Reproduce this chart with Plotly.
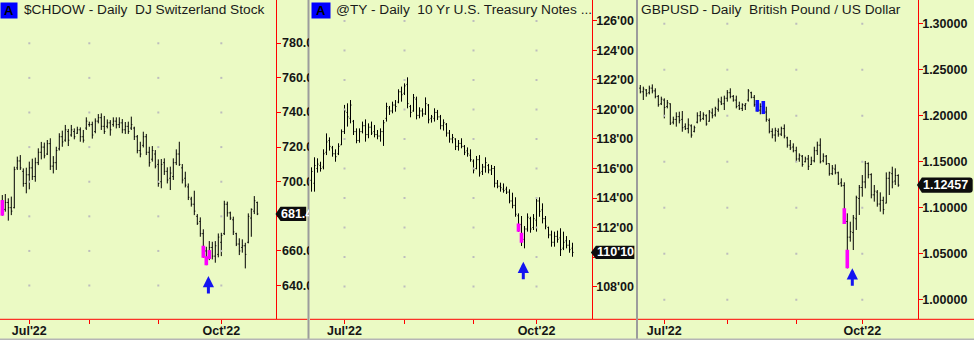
import pandas as pd
import plotly.graph_objects as go

W, H = 974, 340
BG = "#ebfac4"
RED = "#ff0000"
INK = "#151515"
FONT = "Liberation Sans, Arial, sans-serif"


def sessions(start, end, closed=()):
    days = [d.strftime("%Y-%m-%d") for d in pd.bdate_range(start, end)]
    return [d for d in days if d not in closed]


# ---------------- trading calendars ----------------
chd_dates = sessions("2022-06-20", "2022-10-19", ("2022-07-04", "2022-09-05"))
ty_dates = sessions("2022-06-16", "2022-10-19", ("2022-07-04", "2022-09-05"))
gbp_dates = sessions("2022-06-21", "2022-10-19")

tick_months = ["2022-07", "2022-08", "2022-09", "2022-10"]
month_tick_text = ["Jul'22", "", "", "Oct'22"]

# ---------------- $CHDOW daily bars ----------------
chd_open = [689, 684, 688, 685, 685, 708, 712, 706, 699, 704,
            708, 703, 711, 717, 720, 716, 722, 709, 711, 719,
            726, 724, 729, 727, 729, 728, 730, 726, 731, 733,
            733, 729, 735, 737, 732, 732, 734, 733, 735, 733,
            734, 730, 732, 731, 731, 726, 718, 721, 726, 717,
            713, 716, 710, 700, 711, 706, 702, 703, 711, 716,
            708, 702, 697, 690, 687, 680, 677, 670, 660, 656,
            662, 657, 658, 665, 670, 687, 682, 678, 670, 664,
            662, 663, 665, 679, 683, 688]
chd_high = [692.3, 692.9, 690.4, 691.4, 708.7, 714.5, 715.4, 707.7, 708.1, 711.6,
            713.3, 713.9, 719.3, 723.0, 722.6, 724.1, 725.1, 714.8, 720.2, 728.0,
            729.5, 732.8, 730.5, 732.8, 730.8, 731.8, 731.4, 729.9, 737.2, 734.7,
            734.7, 736.6, 739.1, 739.5, 738.0, 736.0, 735.6, 737.2, 737.2, 737.2,
            736.2, 734.5, 734.7, 737.6, 731.8, 727.0, 723.1, 728.9, 727.6, 720.2,
            720.6, 718.3, 712.9, 713.1, 713.5, 708.3, 708.7, 713.5, 718.7, 723.1,
            710.2, 705.8, 699.0, 691.3, 694.8, 681.3, 679.4, 672.5, 662.4, 665.7,
            665.3, 665.7, 670.1, 670.5, 689.0, 688.5, 682.7, 679.8, 670.5, 667.3,
            666.7, 664.7, 681.7, 684.6, 691.7, 688.5]
chd_low = [680.4, 682.7, 677.5, 680.7, 684.6, 706.8, 706.8, 697.1, 693.3, 695.6,
           701.0, 700.0, 709.6, 712.9, 713.5, 715.4, 706.8, 704.8, 706.8, 718.0,
           720.2, 723.1, 720.6, 726.0, 724.5, 727.6, 723.1, 722.6, 729.9, 731.8,
           724.9, 728.0, 733.7, 729.9, 727.6, 730.8, 726.6, 731.8, 730.8, 731.0,
           728.0, 727.6, 727.6, 729.9, 724.1, 716.4, 714.1, 719.8, 715.4, 708.7,
           711.6, 707.7, 697.1, 696.2, 703.9, 699.0, 695.2, 701.0, 709.6, 709.1,
           699.0, 696.7, 689.4, 685.6, 680.7, 675.0, 668.2, 656.1, 651.8, 654.7,
           655.1, 653.2, 656.3, 657.0, 669.2, 679.8, 677.9, 669.2, 662.8, 657.6,
           659.0, 649.9, 664.4, 668.2, 681.3, 680.7]
chd_close = [683, 688, 685, 683, 707, 712, 708, 699, 704, 708,
             703, 711, 717, 720, 715, 722, 709, 711, 718, 726,
             723, 730, 724, 730, 726, 730, 726, 724, 735, 733,
             727, 735, 737, 732, 729, 734, 730, 735, 733, 734,
             730, 732, 729, 733, 726, 718, 716, 726, 717, 711,
             718, 709, 699, 710, 706, 701, 705, 711, 716, 710,
             701, 698, 691, 687, 683, 676, 670, 660, 654, 662,
             657, 663, 668, 669, 687, 682, 679, 671, 664, 660,
             663, 658, 680, 684, 689, 681.4]
chd_yticks = [640, 660, 680, 700, 720, 740, 760, 780]
chd_paint_idx = [0, 67, 68, 69]
chd_paint_top = [689.4, 663.0, 657.0, 660.5]
chd_paint_bot = [680.4, 656.1, 651.8, 655.3]
chd_signal = (68.7, 645.5)

# ---------------- @TY daily bars ----------------
ty_open = [115.2, 115.0, 116.0, 116.2, 116.1, 117.1, 117.9, 117.4, 117.0, 117.0,
           117.6, 118.5, 119.8, 119.4, 119.2, 118.5, 117.9, 118.5, 118.9, 118.3,
           118.8, 118.5, 118.3, 118.2, 118.5, 119.4, 120.1, 119.9, 120.3, 120.5,
           121.2, 121.1, 121.7, 120.2, 119.9, 120.7, 119.6, 119.9, 119.7, 120.3,
           119.4, 119.4, 119.8, 119.5, 118.9, 119.0, 118.4, 118.0, 118.0, 117.5,
           117.7, 117.5, 117.2, 116.9, 116.5, 116.0, 116.6, 115.8, 116.1, 116.2,
           115.9, 116.0, 115.0, 114.8, 114.6, 114.6, 114.4, 113.8, 113.5, 112.8,
           112.2, 111.2, 111.9, 112.6, 112.0, 112.5, 113.8, 113.2, 112.6, 112.0,
           111.5, 111.0, 111.4, 111.3, 110.6, 111.1, 110.8, 110.6]
ty_high = [116.08, 116.76, 116.69, 116.46, 117.30, 118.38, 118.11, 117.53, 117.30, 117.71,
           118.65, 120.31, 120.42, 120.64, 119.29, 118.72, 118.72, 119.18, 119.33, 119.06,
           119.18, 118.95, 118.61, 118.72, 119.29, 120.46, 120.24, 120.53, 120.64, 121.37,
           121.55, 121.77, 122.18, 120.31, 121.05, 120.87, 120.15, 120.08, 120.82, 120.37,
           119.63, 120.08, 119.97, 119.63, 119.33, 119.08, 118.61, 118.34, 118.05, 117.93,
           118.05, 117.59, 117.43, 117.30, 116.62, 116.85, 116.91, 116.31, 116.76, 116.31,
           116.24, 116.17, 115.22, 115.04, 114.99, 114.77, 114.59, 114.36, 114.05, 112.96,
           112.78, 112.10, 112.96, 112.73, 112.91, 113.98, 114.05, 113.64, 112.78, 112.06,
           111.79, 111.72, 111.79, 111.95, 111.72, 111.42, 111.15, 110.97]
ty_low = [114.43, 114.43, 115.72, 115.79, 115.94, 116.91, 117.21, 116.80, 116.46, 116.91,
          117.59, 118.34, 118.84, 119.06, 118.27, 117.71, 117.75, 118.38, 117.82, 118.05,
          118.27, 118.11, 117.98, 117.82, 117.53, 119.18, 119.63, 119.74, 119.85, 120.42,
          120.53, 120.98, 120.08, 119.47, 119.85, 119.33, 119.40, 119.51, 119.63, 119.06,
          119.11, 119.18, 119.29, 118.65, 118.57, 118.16, 117.75, 117.71, 117.25, 117.21,
          117.37, 116.91, 116.80, 116.46, 115.67, 115.94, 115.45, 115.56, 115.72, 115.67,
          115.56, 114.72, 114.66, 114.43, 114.36, 114.27, 113.64, 113.30, 112.73, 111.72,
          110.75, 110.59, 111.72, 111.65, 111.83, 111.72, 112.73, 112.28, 111.88, 111.27,
          110.70, 110.70, 110.97, 110.07, 110.47, 110.59, 110.29, 110.02]
ty_close = [115.8, 116.2, 116.3, 116.0, 117.0, 117.8, 117.5, 117.0, 116.8, 117.5,
            118.5, 119.9, 119.5, 120.3, 118.5, 117.9, 118.5, 118.9, 118.3, 118.8,
            118.4, 118.3, 118.2, 118.5, 119.1, 120.2, 119.9, 120.3, 120.2, 121.2,
            121.0, 121.6, 120.4, 119.8, 120.8, 119.6, 119.9, 119.7, 120.4, 119.3,
            119.5, 119.8, 119.5, 118.9, 119.1, 118.4, 118.0, 118.1, 117.5, 117.7,
            117.5, 117.1, 117.0, 116.6, 115.9, 116.6, 115.7, 116.1, 116.4, 115.9,
            116.0, 115.0, 114.8, 114.7, 114.5, 114.4, 113.8, 113.5, 112.9, 112.0,
            111.2, 111.9, 112.7, 111.9, 112.6, 113.8, 113.1, 112.6, 112.1, 111.5,
            111.0, 111.4, 111.2, 110.5, 111.0, 110.8, 110.5, 110.3125]
ty_yticks = [108, 110, 112, 114, 116, 118, 120, 122, 124, 126]
ty_paint_idx = [69, 70]
ty_paint_top = [112.28, 111.65]
ty_paint_bot = [111.72, 110.97]
ty_signal = (70.6, 109.68)

# ---------------- GBPUSD daily bars ----------------
gbp_open = [1.2300, 1.2260, 1.2280, 1.2250, 1.2300, 1.2270, 1.2210, 1.2130, 1.2170, 1.2100,
            1.2130, 1.1930, 1.1960, 1.1990, 1.1960, 1.1880, 1.1860, 1.1890, 1.1830, 1.1930,
            1.2000, 1.1970, 1.2000, 1.1940, 1.2030, 1.2010, 1.2070, 1.2150, 1.2130, 1.2190,
            1.2250, 1.2210, 1.2170, 1.2110, 1.2080, 1.2110, 1.2170, 1.2250, 1.2200, 1.2150,
            1.2060, 1.2100, 1.2040, 1.1950, 1.1830, 1.1790, 1.1830, 1.1800, 1.1860, 1.1760,
            1.1680, 1.1660, 1.1620, 1.1530, 1.1560, 1.1500, 1.1530, 1.1470, 1.1510, 1.1620,
            1.1680, 1.1510, 1.1560, 1.1480, 1.1370, 1.1420, 1.1380, 1.1270, 1.1240, 1.0850,
            1.0680, 1.0730, 1.0880, 1.1100, 1.1220, 1.1280, 1.1480, 1.1360, 1.1140, 1.1170,
            1.1040, 1.1080, 1.1050, 1.1320, 1.1370, 1.1290, 1.1350]
gbp_high = [1.2334, 1.2316, 1.2290, 1.2327, 1.2341, 1.2298, 1.2225, 1.2207, 1.2189, 1.2171,
            1.2135, 1.1990, 1.2037, 1.2044, 1.2051, 1.1917, 1.1971, 1.1906, 1.1892, 1.2037,
            1.2051, 1.2037, 1.2015, 1.2062, 1.2080, 1.2098, 1.2189, 1.2207, 1.2218, 1.2279,
            1.2298, 1.2225, 1.2218, 1.2153, 1.2135, 1.2135, 1.2290, 1.2261, 1.2225, 1.2171,
            1.2135, 1.2160, 1.2098, 1.1971, 1.1863, 1.1870, 1.1863, 1.1881, 1.1906, 1.1772,
            1.1736, 1.1700, 1.1663, 1.1591, 1.1573, 1.1555, 1.1573, 1.1555, 1.1663, 1.1718,
            1.1754, 1.1591, 1.1573, 1.1482, 1.1464, 1.1471, 1.1392, 1.1319, 1.1276, 1.0939,
            1.0848, 1.0921, 1.1131, 1.1247, 1.1355, 1.1508, 1.1493, 1.1374, 1.1247, 1.1192,
            1.1167, 1.1120, 1.1384, 1.1392, 1.1446, 1.1428, 1.1363]
gbp_low = [1.2243, 1.2171, 1.2207, 1.2232, 1.2243, 1.2189, 1.2098, 1.2116, 1.1971, 1.2080,
           1.1899, 1.1906, 1.1881, 1.1917, 1.1826, 1.1845, 1.1808, 1.1761, 1.1819, 1.1917,
           1.1935, 1.1953, 1.1892, 1.1935, 1.1971, 1.1990, 1.2044, 1.2116, 1.2062, 1.2153,
           1.2189, 1.2153, 1.2080, 1.2062, 1.2051, 1.2062, 1.2153, 1.2189, 1.2098, 1.2044,
           1.2015, 1.2018, 1.1935, 1.1808, 1.1754, 1.1718, 1.1772, 1.1779, 1.1754, 1.1653,
           1.1627, 1.1602, 1.1500, 1.1500, 1.1446, 1.1493, 1.1410, 1.1464, 1.1493, 1.1573,
           1.1482, 1.1493, 1.1464, 1.1348, 1.1355, 1.1363, 1.1247, 1.1228, 1.0823, 1.0341,
           1.0631, 1.0540, 1.0758, 1.0921, 1.1120, 1.1211, 1.1319, 1.1102, 1.1066, 1.1011,
           1.0957, 1.0928, 1.1047, 1.1138, 1.1211, 1.1247, 1.1228]
gbp_close = [1.2260, 1.2290, 1.2240, 1.2300, 1.2270, 1.2210, 1.2120, 1.2180, 1.2090, 1.2140,
             1.1920, 1.1960, 1.1990, 1.1950, 1.1870, 1.1860, 1.1900, 1.1790, 1.1870, 1.2000,
             1.1960, 1.2010, 1.1910, 1.2040, 1.2000, 1.2080, 1.2160, 1.2130, 1.2190, 1.2250,
             1.2210, 1.2170, 1.2100, 1.2080, 1.2120, 1.2130, 1.2270, 1.2200, 1.2120, 1.2060,
             1.2100, 1.2040, 1.1960, 1.1830, 1.1790, 1.1840, 1.1800, 1.1860, 1.1780, 1.1680,
             1.1650, 1.1620, 1.1530, 1.1570, 1.1470, 1.1530, 1.1450, 1.1510, 1.1620, 1.1680,
             1.1500, 1.1560, 1.1480, 1.1370, 1.1430, 1.1380, 1.1260, 1.1240, 1.0850, 1.0680,
             1.0740, 1.0890, 1.1110, 1.1220, 1.1280, 1.1480, 1.1360, 1.1140, 1.1180, 1.1040,
             1.1080, 1.0980, 1.1320, 1.1380, 1.1280, 1.1350, 1.12457]
gbp_yticks = [1.00, 1.05, 1.10, 1.15, 1.20, 1.25, 1.30]
gbp_blue_idx = [39, 41]
gbp_blue_top = [1.2171, 1.2160]
gbp_blue_bot = [1.2044, 1.2018]
gbp_paint_idx = [68, 69]
gbp_paint_top = [1.0993, 1.0544]
gbp_paint_bot = [1.0823, 1.0341]
gbp_signal = (70.67, 1.0341)


def fx(p):
    return p / W


def fy(p):
    return 1 - p / H


def thirty_seconds(v):
    whole = int(v)
    return f"{whole}'{round((v - whole) * 32):02d}"


def month_starts(dates):
    firsts = {}
    for d in dates:
        firsts.setdefault(d[:7], d)
    return [firsts[m] for m in tick_months]


Y_BOT = fy(319.3)
bold = dict(family=FONT, size=12.5, color=INK, weight="bold")

panels = [
    dict(dates=chd_dates, o=chd_open, h=chd_high, l=chd_low, c=chd_close,
         left=0, axis=276.3, right=307.5, xr=(-0.77, 91.33), yr=(620.5, 805.0),
         yt=chd_yticks, fmt=lambda v: f"{v:.1f}", tag_gap=5,
         tag=f"{chd_close[-1]:.1f}", tag_w=30.7, tag_h=7.2, tag_r=0, tag_text_x=279.5, tag_clip=28,
         paints=[(chd_paint_idx, chd_paint_top, chd_paint_bot, "#ff00ff")],
         signal=chd_signal,
         title="$CHDOW - Daily\u00a0 DJ Switzerland Stock", title_x=21.5, badge=(0, 16)),
    dict(dates=ty_dates, o=ty_open, h=ty_high, l=ty_low, c=ty_close,
         left=310, axis=591.7, right=636, xr=(-0.5, 93.4), yr=(105.78, 127.42),
         yt=ty_yticks, fmt=thirty_seconds, tag_gap=0.5,
         tag=thirty_seconds(ty_close[-1]), tag_w=43.5, tag_h=6.7, tag_r=0, tag_text_x=595.5, tag_clip=39.5,
         paints=[(ty_paint_idx, ty_paint_top, ty_paint_bot, "#ff00ff")],
         signal=ty_signal,
         title="@TY - Daily\u00a0 10 Yr U.S. Treasury Notes ...", title_x=333.5, badge=(310.7, 18)),
    dict(dates=gbp_dates, o=gbp_open, h=gbp_high, l=gbp_low, c=gbp_close,
         left=638, axis=917.7, right=974, xr=(-0.77, 92.47), yr=(0.9787, 1.3258),
         yt=gbp_yticks, fmt=lambda v: f"{v:.5f}", tag_gap=0.01,
         tag=f"{gbp_close[-1]:.5f}", tag_w=55.8, tag_h=7.7, tag_r=3, tag_text_x=922, tag_clip=None,
         paints=[(gbp_blue_idx, gbp_blue_top, gbp_blue_bot, "#1010ff"),
                 (gbp_paint_idx, gbp_paint_top, gbp_paint_bot, "#ff00ff")],
         signal=gbp_signal,
         title="GBPUSD - Daily\u00a0 British Pound / US Dollar", title_x=639, badge=None),
]

fig = go.Figure()
annotations, shapes, layout_axes = [], [], {}

for i, p in enumerate(panels, start=1):
    sfx = str(i) if i > 1 else ""
    xa, ya = "x" + sfx, "y" + sfx
    starts = month_starts(p["dates"])
    last = p["c"][-1]
    # a price label that sits under the last-price tag is left blank
    ytext = ["" if abs(v - last) < p["tag_gap"] else p["fmt"](v) for v in p["yt"]]

    fig.add_trace(go.Ohlc(x=p["dates"], open=p["o"], high=p["h"], low=p["l"], close=p["c"],
                          xaxis=xa, yaxis=ya, tickwidth=0.34,
                          increasing=dict(line=dict(color="#000000", width=1)),
                          decreasing=dict(line=dict(color="#000000", width=1)),
                          hoverinfo="skip"))

    # grid dots at tick intersections
    gx = [d for d in starts for _ in p["yt"]]
    gy = [v for _ in starts for v in p["yt"]]
    fig.add_trace(go.Scatter(x=gx, y=gy, mode="markers", xaxis=xa, yaxis=ya,
                             marker=dict(symbol="square", size=2, color="#bdbdbd"),
                             hoverinfo="skip"))

    # highlighted bars
    for idx, top, bot, col in p["paints"]:
        px_, py_ = [], []
        for k, t, b in zip(idx, top, bot):
            px_ += [p["dates"][k], p["dates"][k], None]
            py_ += [b, t, None]
        fig.add_trace(go.Scatter(x=px_, y=py_, mode="lines", xaxis=xa, yaxis=ya,
                                 line=dict(color=col, width=3.6), hoverinfo="skip"))

    layout_axes["xaxis" + sfx] = dict(
        domain=[fx(p["left"]), fx(p["axis"])],
        range=list(p["xr"]), type="category", anchor=ya,
        categoryorder="array", categoryarray=p["dates"],
        tickvals=starts, ticktext=month_tick_text, tickangle=0,
        ticks="outside", ticklen=4, tickcolor=RED, tickwidth=1, ticklabelstandoff=-4,
        showline=False, showgrid=False, zeroline=False, automargin=False,
        tickfont=bold, rangeslider=dict(visible=False), fixedrange=True)
    layout_axes["yaxis" + sfx] = dict(
        domain=[Y_BOT, 1], range=list(p["yr"]), side="right", anchor=xa,
        showline=True, linecolor=RED, linewidth=1,
        ticks="outside", ticklen=4, tickcolor=RED, tickwidth=1, ticklabelstandoff=-3,
        tickvals=p["yt"], ticktext=ytext, showticklabels=(i > 1),
        showgrid=False, zeroline=False, automargin=False, tickfont=bold, fixedrange=True)

    # first pane's price labels are cut off by the divider
    if i == 1:
        for v, t in zip(p["yt"], ytext):
            if t:
                annotations.append(dict(x=fx(280.5), y=v, xref="paper", yref=ya, text=t,
                                        xanchor="left", yanchor="middle", align="left",
                                        width=27, borderpad=0, showarrow=False, font=bold))

    # bottom red rule across the whole pane
    shapes.append(dict(type="line", xref="paper", yref="paper",
                       x0=fx(p["left"]), x1=fx(p["right"]), y0=Y_BOT, y1=Y_BOT,
                       line=dict(color=RED, width=1), layer="above"))

    # last-price tag
    w, h, r = p["tag_w"], p["tag_h"], p["tag_r"]
    path = (f"M0,0 L5,{h} L{w - r},{h} Q{w},{h} {w},{h - r} L{w},{-h + r} "
            f"Q{w},{-h} {w - r},{-h} L5,{-h} Z")
    shapes.append(dict(type="path", xref="paper", yref=ya, xsizemode="pixel", ysizemode="pixel",
                       xanchor=fx(p["axis"] - 0.8), yanchor=last, path=path,
                       fillcolor="#0d0d0d", line=dict(width=0), layer="above"))
    tag = dict(x=fx(p["tag_text_x"]), y=last, xref="paper", yref=ya, text=p["tag"],
               xanchor="left", yanchor="middle", align="left", borderpad=0, showarrow=False,
               font=dict(family=FONT, size=12.5, color="#ffffff", weight="bold"))
    if p["tag_clip"]:
        tag["width"] = p["tag_clip"]
    annotations.append(tag)

    # buy-signal arrow
    sx, sy = p["signal"]
    annotations.append(dict(x=sx, y=sy, xref=xa, yref=ya, text="", showarrow=True,
                            ax=0, ay=19, axref="pixel", ayref="pixel",
                            arrowhead=2, arrowsize=0.75, arrowwidth=3, arrowcolor="#1414f0",
                            standoff=0))

    # pane title
    annotations.append(dict(x=fx(p["title_x"]), y=fy(9.5), xref="paper", yref="paper",
                            text=p["title"], xanchor="left", yanchor="middle", showarrow=False,
                            font=dict(family=FONT, size=13.7, color="#1a1a1a")))
    if p["badge"]:
        bx, bw = p["badge"]
        annotations.append(dict(x=fx(bx), y=fy(1.7), xref="paper", yref="paper", text="A",
                                xanchor="left", yanchor="top", width=bw, height=15, borderpad=0,
                                bgcolor="#0000ff", showarrow=False,
                                font=dict(family=FONT, size=13, color="#000000", weight="bold")))

# pane dividers and bottom frame
for xd in (308.5, 637):
    shapes.append(dict(type="line", xref="paper", yref="paper", x0=fx(xd), x1=fx(xd), y0=0, y1=1,
                       line=dict(color="#9c9c9c", width=2), layer="above"))
shapes.append(dict(type="line", xref="paper", yref="paper", x0=0, x1=1, y0=fy(339.3), y1=fy(339.3),
                   line=dict(color="#b5b5b5", width=1.5), layer="above"))

fig.update_layout(
    template="none",
    width=W, height=H, margin=dict(l=0, r=0, t=0, b=0, autoexpand=False),
    paper_bgcolor=BG, plot_bgcolor=BG, showlegend=False, hovermode=False,
    annotations=annotations, shapes=shapes, **layout_axes)

fig.write_html("out.html", config=dict(displayModeBar=False, staticPlot=True))
